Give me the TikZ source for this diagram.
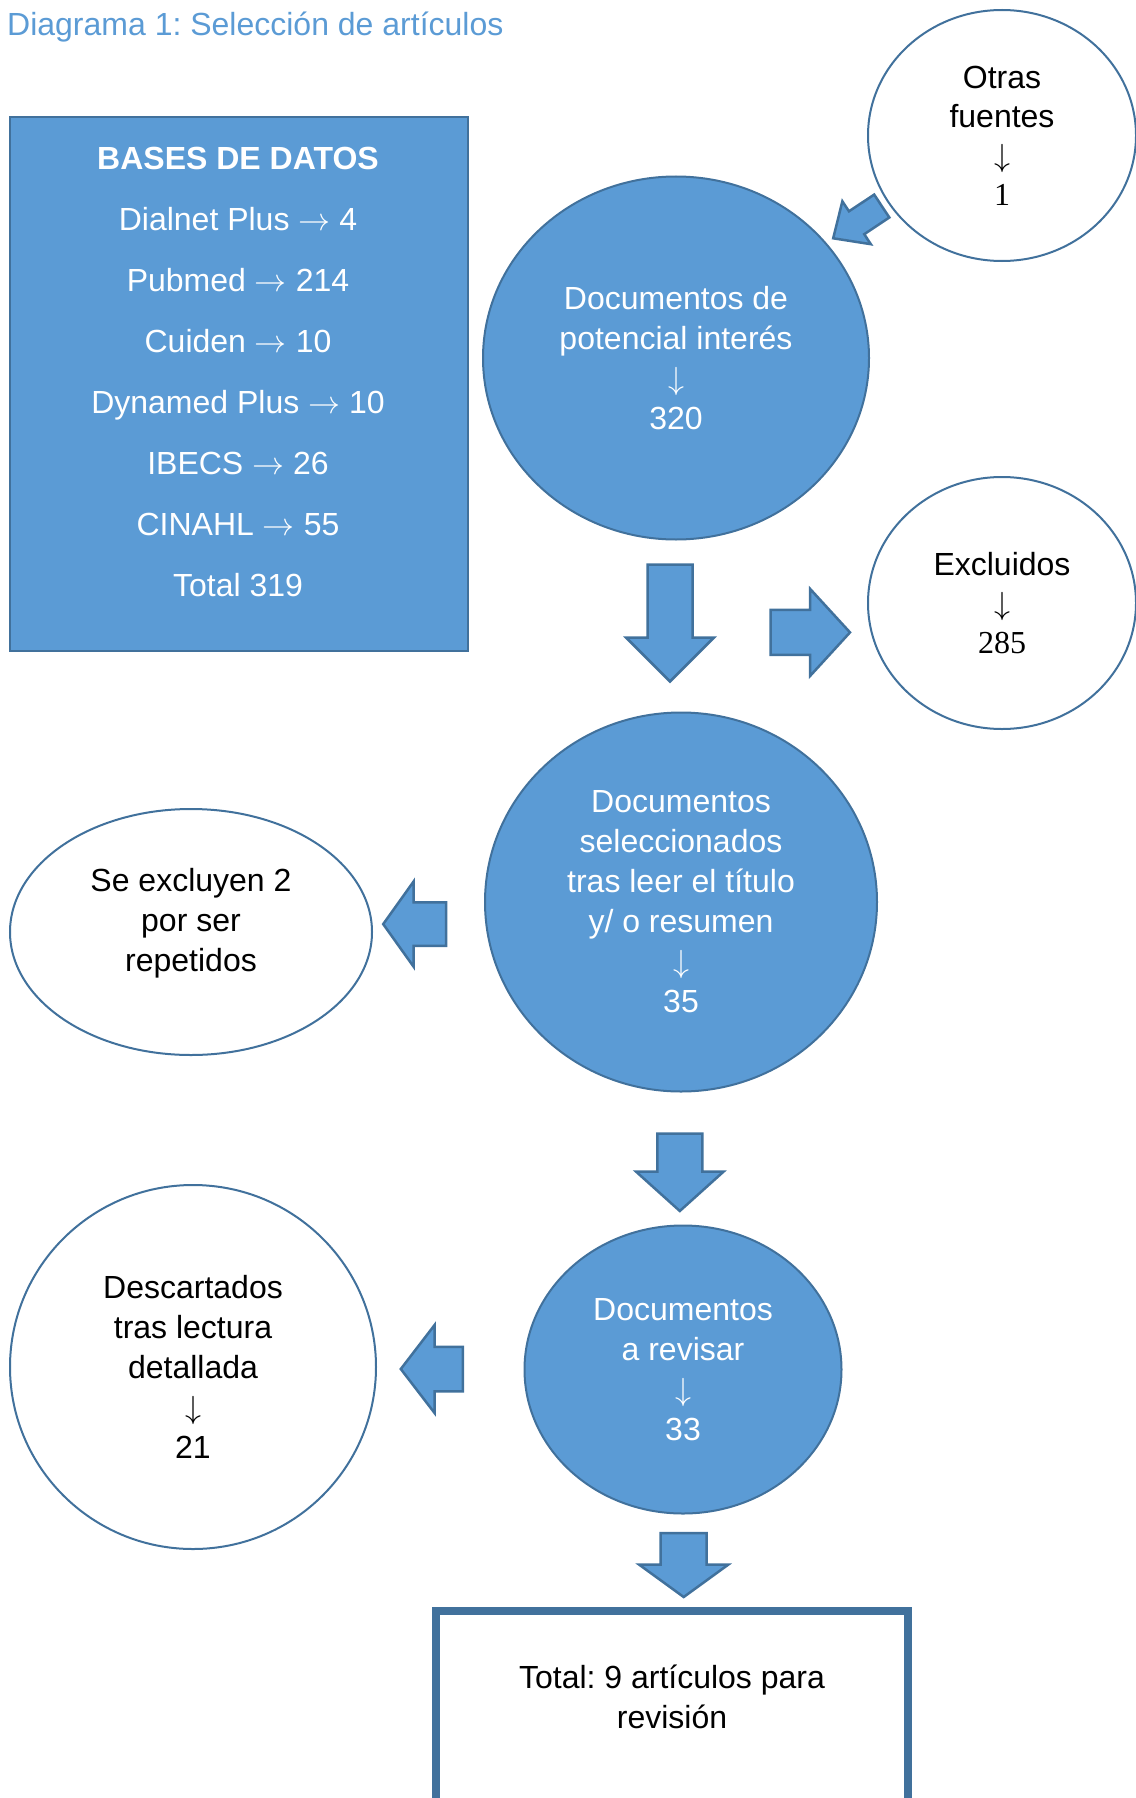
\RequirePackage{fix-cm}
\documentclass[tikz,border=0pt]{standalone}
\usepackage{fontspec}
\setmainfont{Liberation Sans}
\newfontfamily\serifnum{Liberation Serif}
\usetikzlibrary{shapes.geometric,shapes.arrows}
\frenchspacing

\definecolor{officeblue}{HTML}{5B9BD5}
\definecolor{officeedge}{HTML}{41719C}

\begin{document}
\begin{tikzpicture}[x=1pt, y=1pt, font=\fontsize{32}{40}\selectfont]
\def \lw {2pt}
  \tikzstyle{bluebox} = [draw=officeedge, fill=officeblue, rectangle, line width=\lw, inner sep=0]
  \tikzstyle{bluecircle} = [draw=officeedge, fill=officeblue, ellipse, line width=\lw,
                            text=white, align=center, inner sep=0]
  \tikzstyle{whitecircle} = [draw=officeedge, fill=white, ellipse, line width=\lw,
                             text=black, align=center, inner sep=0]
  \tikzstyle{bigarrow} = [draw=officeedge, fill=officeblue, single arrow, line width=2.5pt,
                          inner xsep=0, outer sep=0, anchor=tip]
  \tikzstyle{finalbox} = [draw=officeedge, rectangle, line width=8pt, inner sep=0]

\useasboundingbox (0,0) rectangle (1135,-1798);

%%%%%%%%%%%%%%%%%%%%%%%%%%%%%%%%%%%%%%%%%%%%%%%%%%%%%%%%%%%%%%%%%%%%%%%%%%%%%%%

\coordinate (title_pose) at (7, -35.5);
\coordinate (bases_pose) at (239, -384);
\coordinate (fuentes_pose) at (1002, -135.5);
\coordinate (potencial_pose) at (676, -358);
\coordinate (excluidos_pose) at (1002, -603);
\coordinate (seleccion_pose) at (681, -902);
\coordinate (repetidos_pose) at (191, -932);
\coordinate (revisar_pose) at (683, -1369.5);
\coordinate (descartados_pose) at (193, -1367);
\coordinate (total_pose) at (672, -1761);

%%%%%%%%%%%%%%%%%%%%%%%%%%%%%%%%%%%%%%%%%%%%%%%%%%%%%%%%%%%%%%%%%%%%%%%%%%%%%%%

\node[anchor=base west, inner sep=0, text=officeblue] (title) at (title_pose) {Diagrama 1: Selección de artículos};

\node[bluebox, minimum width=458pt, minimum height=534pt] (bases) at (bases_pose) {};
\node[text=white, align=center, font=\fontsize{32}{61}\selectfont] (bases_text) at (238, -372)
  {\textbf{BASES DE DATOS}\\ Dialnet Plus $\rightarrow$ 4\\ Pubmed $\rightarrow$ 214\\ Cuiden $\rightarrow$ 10\\
   Dynamed Plus $\rightarrow$ 10\\ IBECS $\rightarrow$ 26\\ CINAHL $\rightarrow$ 55\\ Total 319};

\node[whitecircle, minimum width=268pt, minimum height=251pt, font=\fontsize{32}{39}\selectfont] (fuentes) at (fuentes_pose)
  {Otras\\ fuentes\\ $\downarrow$\\ {\serifnum 1}};
\node[bluecircle, minimum width=386pt, minimum height=363pt] (potencial) at (potencial_pose)
  {Documentos de\\ potencial interés\\ $\downarrow$\\ 320};
\node[whitecircle, minimum width=268pt, minimum height=252pt, font=\fontsize{32}{39}\selectfont] (excluidos) at (excluidos_pose)
  {Excluidos\\ $\downarrow$\\ {\serifnum 285}};
\node[bluecircle, minimum width=392pt, minimum height=379pt] (seleccion) at (seleccion_pose)
  {Documentos\\ seleccionados\\ tras leer el título\\ y/ o resumen\\ $\downarrow$\\ 35};
\node[whitecircle, minimum width=362pt, minimum height=246pt, text depth=24pt] (repetidos) at (repetidos_pose)
  {Se excluyen 2\\ por ser\\ repetidos};
\node[bluecircle, minimum width=317pt, minimum height=288pt] (revisar) at (revisar_pose)
  {Documentos\\ a revisar\\ $\downarrow$\\ 33};
\node[whitecircle, minimum width=366pt, minimum height=364pt] (descartados) at (descartados_pose)
  {Descartados\\ tras lectura\\ detallada\\ $\downarrow$\\ 21};

\node[finalbox, minimum width=472pt, minimum height=300pt] (total) at (total_pose) {};
\node[align=center] (total_text) at (672, -1696.5) {Total: 9 artículos para\\ revisión};

%%%%%%%%%%%%%%%%%%%%%%%%%%%%%%%%%%%%%%%%%%%%%%%%%%%%%%%%%%%%%%%%%%%%%%%%%%%%%%%

\node[bigarrow, rotate=213.6, minimum height=58.3pt, minimum width=49pt, inner ysep=12.5pt,
      single arrow head extend=12pt, single arrow tip angle=85] (arrow_fuentes) at (833.2, -238.3) {};
\node[bigarrow, rotate=-90, minimum height=117pt, minimum width=85.4pt, inner ysep=21.25pt,
      single arrow head extend=21.45pt, single arrow tip angle=90] (arrow_potencial) at (670, -681.5) {};
\node[bigarrow, minimum height=79.5pt, minimum width=84.6pt, inner ysep=21.25pt,
      single arrow head extend=21.05pt, single arrow tip angle=95] (arrow_excluidos) at (850, -632.4) {};
\node[bigarrow, rotate=180, minimum height=62.8pt, minimum width=83pt, inner ysep=20.6pt,
      single arrow head extend=20.9pt, single arrow tip angle=109] (arrow_repetidos) at (383.2, -924.1) {};
\node[bigarrow, rotate=-90, minimum height=77.5pt, minimum width=85pt, inner ysep=21.25pt,
      single arrow head extend=21.25pt, single arrow tip angle=96] (arrow_seleccion) at (679.8, -1211) {};
\node[bigarrow, rotate=180, minimum height=62pt, minimum width=85.5pt, inner ysep=21pt,
      single arrow head extend=21.75pt, single arrow tip angle=105] (arrow_descartados) at (400.8, -1369) {};
\node[bigarrow, rotate=-90, minimum height=64pt, minimum width=86.5pt, inner ysep=21.75pt,
      single arrow head extend=21.5pt, single arrow tip angle=108] (arrow_revisar) at (683.7, -1597) {};

\end{tikzpicture}
\end{document}
